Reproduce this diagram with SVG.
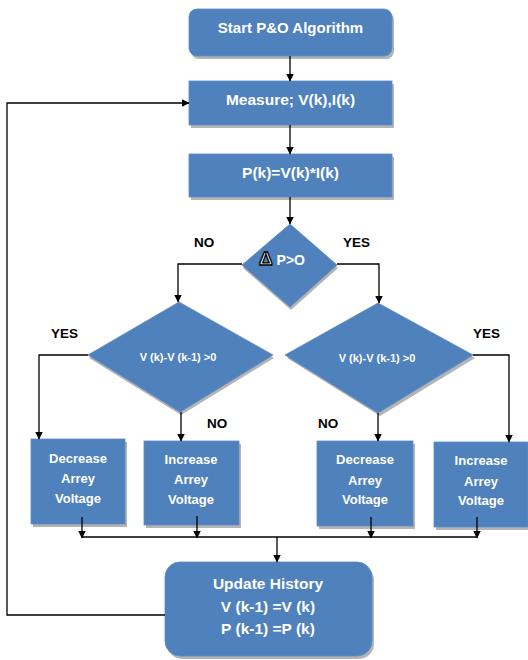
<svg xmlns="http://www.w3.org/2000/svg" width="528" height="660" viewBox="0 0 528 660">
<defs>
<marker id="ah" markerWidth="8" markerHeight="8" refX="7.5" refY="4" orient="auto" markerUnits="userSpaceOnUse">
<path d="M0,0 L8,4 L0,8 z" fill="#000"/>
</marker>
<style>
.box{fill:#4F81BD;stroke:#5b8cc6;stroke-width:0.8}
.sh{fill:#b4b4b4}
.t{font-family:"Liberation Sans",Arial,sans-serif;font-weight:bold;fill:#fff;text-anchor:middle}
.lbl{font-family:"Liberation Sans",Arial,sans-serif;font-weight:bold;fill:#000;font-size:13.5px}
.c{fill:none;stroke:#000;stroke-width:1.3}
</style>
</defs>
<rect width="528" height="660" fill="#fff"/>

<g id="start">
<rect class="sh" x="191" y="12" width="203" height="47" rx="8"/>
<rect class="box" x="189" y="9" width="203" height="47" rx="8"/>
<text class="t" x="290.5" y="33" font-size="15">Start P&amp;O Algorithm</text>
</g>

<g id="measure">
<rect class="sh" x="191" y="84" width="203" height="44"/>
<rect class="box" x="189" y="81" width="203" height="44"/>
<text class="t" x="290.5" y="105" font-size="15.5">Measure; V(k),I(k)</text>
</g>

<g id="power">
<rect class="sh" x="191" y="157" width="203" height="43"/>
<rect class="box" x="189" y="154" width="203" height="43"/>
<text class="t" x="290.5" y="178" font-size="15.5">P(k)=V(k)*I(k)</text>
</g>

<g id="dp">
<polygon class="sh" points="291,227 338,268 291,310 243,268"/>
<polygon class="box" points="290,224 337,265 290,307 242,265"/>
<text class="t" x="282" y="265" font-size="14"><tspan font-size="19" stroke="#000" stroke-width="1.3" fill="#fff">Δ</tspan> P&gt;O</text>
</g>

<g id="dv1">
<polygon class="sh" points="181,305 274,358 181,415 89,358"/>
<polygon class="box" points="179,302 273,355 180,412 88,355"/>
<text class="t" x="178" y="361" font-size="11">V (k)-V (k-1) &gt;0</text>
</g>

<g id="dv2">
<polygon class="sh" points="380,306 475,358 380,416 287,358"/>
<polygon class="box" points="378,303 473,355 378,413 285,355"/>
<text class="t" x="377" y="362" font-size="11">V (k)-V (k-1) &gt;0</text>
</g>

<g id="dec1">
<rect class="sh" x="33" y="442" width="94" height="85"/>
<rect class="box" x="31" y="439" width="94" height="85"/>
<text class="t" x="78" y="463" font-size="13">Decrease</text>
<text class="t" x="78" y="483" font-size="13">Arrey</text>
<text class="t" x="78" y="503" font-size="13">Voltage</text>
</g>

<g id="inc1">
<rect class="sh" x="146" y="444" width="95" height="84"/>
<rect class="box" x="144" y="441" width="95" height="84"/>
<text class="t" x="191" y="464" font-size="13">Increase</text>
<text class="t" x="191" y="484" font-size="13">Arrey</text>
<text class="t" x="191" y="504" font-size="13">Voltage</text>
</g>

<g id="dec2">
<rect class="sh" x="319" y="444" width="96" height="85"/>
<rect class="box" x="317" y="441" width="96" height="85"/>
<text class="t" x="365" y="464" font-size="13">Decrease</text>
<text class="t" x="365" y="485" font-size="13">Arrey</text>
<text class="t" x="365" y="504" font-size="13">Voltage</text>
</g>

<g id="inc2">
<rect class="sh" x="436" y="445" width="94" height="85"/>
<rect class="box" x="434" y="442" width="94" height="85"/>
<text class="t" x="481" y="465" font-size="13">Increase</text>
<text class="t" x="481" y="486" font-size="13">Arrey</text>
<text class="t" x="481" y="505" font-size="13">Voltage</text>
</g>

<g id="update">
<rect class="sh" x="167" y="565" width="207" height="94" rx="15"/>
<rect class="box" x="165" y="562" width="207" height="94" rx="15"/>
<text class="t" x="268" y="589" font-size="15.5">Update History</text>
<text class="t" x="268" y="612" font-size="15.5">V (k-1) =V (k)</text>
<text class="t" x="268" y="634" font-size="15.5">P (k-1) =P (k)</text>
</g>

<g id="labels">
<text class="lbl" x="194" y="247">NO</text>
<text class="lbl" x="343" y="247">YES</text>
<text class="lbl" x="51" y="338">YES</text>
<text class="lbl" x="473" y="338">YES</text>
<text class="lbl" x="207" y="428">NO</text>
<text class="lbl" x="318" y="428">NO</text>
</g>

<g id="connectors">
<path class="c" d="M290,56 V81" marker-end="url(#ah)"/>
<path class="c" d="M290,125 V154" marker-end="url(#ah)"/>
<path class="c" d="M290,197 V224" marker-end="url(#ah)"/>
<path class="c" d="M242,264 H178 V302" marker-end="url(#ah)"/>
<path class="c" d="M337,264 H379 V303" marker-end="url(#ah)"/>
<path class="c" d="M88,355 H39 V439" marker-end="url(#ah)"/>
<path class="c" d="M181,412 V441" marker-end="url(#ah)"/>
<path class="c" d="M378,413 V441" marker-end="url(#ah)"/>
<path class="c" d="M473,355 H509 V442" marker-end="url(#ah)"/>
<path class="c" d="M82,517 V538" marker-end="url(#ah)"/>
<path class="c" d="M197,516 V538" marker-end="url(#ah)"/>
<path class="c" d="M371,517 V538" marker-end="url(#ah)"/>
<path class="c" d="M477,517 V538" marker-end="url(#ah)"/>
<path class="c" d="M82,537 H477"/>
<path class="c" d="M277,537 V562" marker-end="url(#ah)"/>
<path class="c" d="M165,615 H7 V103 H189" marker-end="url(#ah)"/>
</g>
</svg>
